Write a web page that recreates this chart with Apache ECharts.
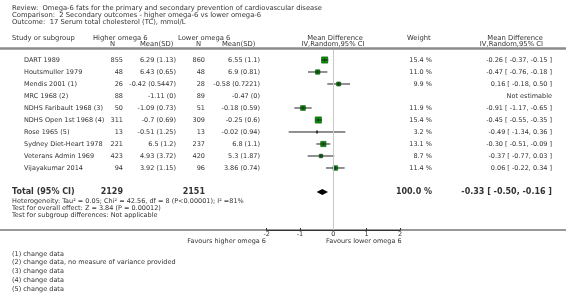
<!DOCTYPE html>
<html>
<head>
<meta charset="utf-8">
<script src="https://cdn.jsdelivr.net/npm/echarts@6/dist/echarts.min.js"></script>
<style>
  html, body { margin: 0; padding: 0; background: #fff; }
  #chart { width: 566px; height: 300px; }
</style>
</head>
<body>
<div id="chart"></div>
<script>
const studies = ['DART 1989', 'Houtsmuller 1979', 'Mendis 2001 (1)', 'MRC 1968 (2)', 'NDHS Faribault 1968 (3)',
  'NDHS Open 1st 1968 (4)', 'Rose 1965 (5)', 'Sydney Diet-Heart 1978', 'Veterans Admin 1969', 'Vijayakumar 2014'];
const highN = [855, 48, 26, 88, 50, 311, 13, 221, 423, 94];
const highMeanSD = ['6.29 (1.13)', '6.43 (0.65)', '-0.42 (0.5447)', '-1.11 (0)', '-1.09 (0.73)',
  '-0.7 (0.69)', '-0.51 (1.25)', '6.5 (1.2)', '4.93 (3.72)', '3.92 (1.15)'];
const lowN = [860, 48, 28, 89, 51, 309, 13, 237, 420, 96];
const lowMeanSD = ['6.55 (1.1)', '6.9 (0.81)', '-0.58 (0.7221)', '-0.47 (0)', '-0.18 (0.59)',
  '-0.25 (0.6)', '-0.02 (0.94)', '6.8 (1.1)', '5.3 (1.87)', '3.86 (0.74)'];
const weights = [15.4, 11.0, 9.9, null, 11.9, 15.4, 3.2, 13.1, 8.7, 11.4];
const md = [-0.26, -0.47, 0.16, null, -0.91, -0.45, -0.49, -0.30, -0.37, 0.06];
const ciLow = [-0.37, -0.76, -0.18, null, -1.17, -0.55, -1.34, -0.51, -0.77, -0.22];
const ciHigh = [-0.15, -0.18, 0.50, null, -0.65, -0.35, 0.36, -0.09, 0.03, 0.34];
const totalN = [2129, 2151];
const totalMD = [-0.33, -0.50, -0.16];
const xTicks = [-2, -1, 0, 1, 2];
const footnotes = ['(1) change data', '(2) change data, no measure of variance provided',
  '(3) change data', '(4) change data', '(5) change data'];

const TOTAL_ROW = 11;
const FONT = '"DejaVu Sans", sans-serif';
const SMALL = '6.5px ' + FONT;
const HEAD = '6.8px ' + FONT;
const TXT = '#333';

function txt(text, x, y, align, font) {
  return {
    type: 'text', x: x, y: y, silent: true,
    style: { text: text, fill: TXT, font: font || SMALL, align: align || 'left', verticalAlign: 'middle',
      textAlign: align || 'left', textVerticalAlign: 'middle' }
  };
}
function fmtCI(m, l, h) {
  return m.toFixed(2) + ' [ ' + l.toFixed(2) + ', ' + h.toFixed(2) + ' ]';
}

// rows for text table
const tableRows = studies.map((s, i) => [0, i]);
tableRows.push([0, TOTAL_ROW]);

const forestData = [];
for (let i = 0; i < studies.length; i++) {
  if (md[i] !== null) forestData.push([md[i], ciLow[i], ciHigh[i], i, weights[i]]);
}

const option = {
  animation: false,
  grid: { left: 266.67, width: 133.33, top: 50, height: 180 },
  xAxis: {
    type: 'value', min: -2, max: 2, interval: 1,
    axisLine: { show: true, onZero: false, lineStyle: { color: '#333', width: 1 } },
    axisTick: { show: true, inside: true, length: 2, lineStyle: { color: '#333' } },
    axisLabel: { fontSize: 6.5, fontFamily: FONT, color: TXT, margin: 1,
      formatter: v => xTicks.includes(v) ? String(v) : '' },
    splitLine: { show: false }
  },
  yAxis: { type: 'value', inverse: true, min: -0.8333, max: 14.1667, show: false },
  graphic: [
    txt('Review:  Omega-6 fats for the primary and secondary prevention of cardiovascular disease', 12, 8, 'left', HEAD),
    txt('Comparison:  2 Secondary outcomes - higher omega-6 vs lower omega-6', 12, 15, 'left', HEAD),
    txt('Outcome:  17 Serum total cholesterol (TC), mmol/L', 12, 22, 'left', HEAD),
    txt('Study or subgroup', 12, 38, 'left', HEAD),
    txt('Higher omega 6', 93, 38, 'left', HEAD),
    txt('N', 110, 44, 'left', HEAD),
    txt('Mean(SD)', 140, 44, 'left', HEAD),
    txt('Lower omega 6', 178, 38, 'left', HEAD),
    txt('N', 196, 44, 'left', HEAD),
    txt('Mean(SD)', 222, 44, 'left', HEAD),
    txt('Mean Difference', 335, 38, 'center', HEAD),
    txt('IV,Random,95% CI', 333, 44, 'center', HEAD),
    txt('Weight', 407, 38, 'left', HEAD),
    txt('Mean Difference', 543, 38, 'right', HEAD),
    txt('IV,Random,95% CI', 543, 44, 'right', HEAD),
    { type: 'line', silent: true, shape: { x1: 0, y1: 48.5, x2: 566, y2: 48.5 },
      style: { stroke: '#8c8c8c', lineWidth: 2.5 } },
    { type: 'line', silent: true, shape: { x1: 0, y1: 230, x2: 566, y2: 230 },
      style: { stroke: '#333', lineWidth: 1 } },
    txt('Heterogeneity: Tau\u00b2 = 0.05; Chi\u00b2 = 42.56, df = 8 (P<0.00001); I\u00b2 =81%', 12, 201),
    txt('Test for overall effect: Z = 3.84 (P = 0.00012)', 12, 208),
    txt('Test for subgroup differences: Not applicable', 12, 215),
    txt('Favours higher omega 6', 266, 241, 'right'),
    txt('Favours lower omega 6', 326, 241),
    ...footnotes.map((f, i) => txt(f, 12, 254 + i * 8.8))
  ],
  series: [
    {
      type: 'custom',
      name: 'table',
      silent: true,
      clip: false,
      data: tableRows,
      encode: { x: 0, y: 1 },
      renderItem: function (params, api) {
        const row = api.value(1);
        const y = api.coord([0, row])[1];
        if (row === TOTAL_ROW) {
          const bold = 'bold 8px ' + FONT;
          return {
            type: 'group', children: [
              txt('Total (95% CI)', 12, y, 'left', bold),
              txt(String(totalN[0]), 123, y, 'right', bold),
              txt(String(totalN[1]), 205, y, 'right', bold),
              txt('100.0 %', 432, y, 'right', bold),
              txt(fmtCI(totalMD[0], totalMD[1], totalMD[2]), 552, y, 'right', bold)
            ]
          };
        }
        const i = row;
        return {
          type: 'group', children: [
            txt(studies[i], 24, y),
            txt(String(highN[i]), 123, y, 'right'),
            txt(highMeanSD[i], 176, y, 'right'),
            txt(String(lowN[i]), 205, y, 'right'),
            txt(lowMeanSD[i], 260, y, 'right'),
            txt(weights[i] === null ? '' : weights[i].toFixed(1) + ' %', 432, y, 'right'),
            txt(md[i] === null ? 'Not estimable' : fmtCI(md[i], ciLow[i], ciHigh[i]), 552, y, 'right')
          ]
        };
      },
      markLine: {
        silent: true, symbol: 'none', label: { show: false },
        lineStyle: { color: '#c8c8c8', width: 1, type: 'solid' },
        data: [{ xAxis: 0 }]
      }
    },
    {
      type: 'custom',
      name: 'studies',
      data: forestData,
      encode: { x: [0, 1, 2], y: 3 },
      renderItem: function (params, api) {
        const row = api.value(3);
        const c = api.coord([api.value(0), row]);
        const l = api.coord([api.value(1), row]);
        const h = api.coord([api.value(2), row]);
        const s = api.value(4) * 0.4;
        return {
          type: 'group', children: [
            { type: 'rect', shape: { x: c[0] - s / 2, y: c[1] - s / 2, width: s, height: s },
              style: { fill: '#00a000', stroke: '#004400', lineWidth: 0.6 } },
            { type: 'line', shape: { x1: l[0], y1: l[1], x2: h[0], y2: h[1] },
              style: { stroke: '#222', lineWidth: 1 } },
            { type: 'line', shape: { x1: c[0], y1: c[1] - 2, x2: c[0], y2: c[1] + 2 },
              style: { stroke: '#222', lineWidth: 0.8 } }
          ]
        };
      }
    },
    {
      type: 'custom',
      name: 'total',
      data: [[totalMD[0], totalMD[1], totalMD[2], TOTAL_ROW]],
      encode: { x: [0, 1, 2], y: 3 },
      renderItem: function (params, api) {
        const row = api.value(3);
        const c = api.coord([api.value(0), row]);
        const l = api.coord([api.value(1), row]);
        const h = api.coord([api.value(2), row]);
        return {
          type: 'polygon',
          shape: { points: [[l[0], l[1]], [c[0], c[1] - 3], [h[0], h[1]], [c[0], c[1] + 3]] },
          style: { fill: '#000' }
        };
      }
    }
  ]
};

const myChart = echarts.init(document.getElementById('chart'));
myChart.setOption(option);
window.addEventListener('resize', function () {
  myChart.resize();
});
</script>
</body>
</html>
